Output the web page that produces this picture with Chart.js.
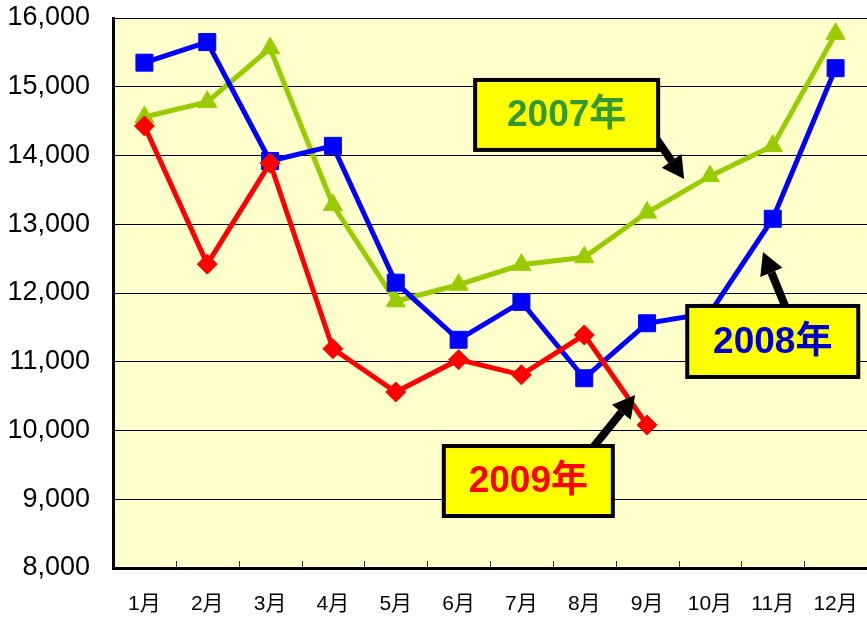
<!DOCTYPE html>
<html>
<head>
<meta charset="utf-8">
<script src="https://cdn.jsdelivr.net/npm/chart.js@4"></script>
<style>
  html, body { margin: 0; padding: 0; background: #fff; overflow: hidden; }
  #wrap { width: 867px; height: 617px; }
  canvas { display: block; }
</style>
</head>
<body>
<div id="wrap"><canvas id="salesChart" width="867" height="617"></canvas></div>
<script>
const months = ['1月', '2月', '3月', '4月', '5月', '6月', '7月', '8月', '9月', '10月', '11月', '12月'];
const sales2007 = [14560, 14780, 15560, 13280, 11880, 12120, 12410, 12520, 13170, 13700, 14140, 15770];
const sales2008 = [15350, 15650, 13920, 14140, 12150, 11320, 11870, 10760, 11560, 11710, 13080, 15270];
const sales2009 = [14430, 12420, 13890, 11190, 10560, 11030, 10810, 11390, 10080];
const yMin = 8000;
const yMax = 16000;
const yStep = 1000;

const FONT = "'Liberation Sans', Arial, 'Noto Sans CJK JP', sans-serif";

// 吹き出し（位置はデータ座標、サイズはpx）
const notes = [
    { text: '2007年', color: '#339933', x: 6.72, y: 14590, w: 183, h: 70, from: [8.05, 14371], to: [8.59, 13658] },
    { text: '2008年', color: '#0000CC', x: 10.0, y: 11295, w: 171, h: 71, from: [10.35, 11469], to: [9.845, 12596] },
    { text: '2009年', color: '#FF0000', x: 6.11, y: 9265, w: 169, h: 70, from: [6.85, 9425], to: [7.81, 10516] }
];

const plotBg = {
    id: 'plotBg',
    beforeDraw(chart) {
        const { ctx, chartArea: a } = chart;
        ctx.save();
        ctx.fillStyle = '#FFFFCC';
        ctx.fillRect(a.left, a.top, a.right - a.left, a.bottom - a.top);
        ctx.restore();
    },
    beforeDatasetsDraw(chart) {
        // 下軸の内向き目盛り
        const { ctx, chartArea: a, scales } = chart;
        const xs = scales.x;
        const half = (xs.getPixelForValue(1) - xs.getPixelForValue(0)) / 2;
        ctx.save();
        ctx.strokeStyle = '#333';
        ctx.lineWidth = 1;
        for (let i = 1; i < months.length; i++) {
            const px = Math.round(xs.getPixelForValue(i) - half) + 0.5;
            ctx.beginPath();
            ctx.moveTo(px, a.bottom);
            ctx.lineTo(px, a.bottom - 7);
            ctx.stroke();
        }
        ctx.restore();
    }
};

function drawArrow(ctx, x1, y1, x2, y2) {
    const ang = Math.atan2(y2 - y1, x2 - x1);
    const headLen = 22, headW = 12;
    const bx = x2 - Math.cos(ang) * headLen;
    const by = y2 - Math.sin(ang) * headLen;
    ctx.strokeStyle = '#000';
    ctx.fillStyle = '#000';
    ctx.lineWidth = 8;
    ctx.beginPath();
    ctx.moveTo(x1, y1);
    ctx.lineTo(bx, by);
    ctx.stroke();
    ctx.beginPath();
    ctx.moveTo(x2, y2);
    ctx.lineTo(bx + Math.sin(ang) * headW, by - Math.cos(ang) * headW);
    ctx.lineTo(bx - Math.sin(ang) * headW, by + Math.cos(ang) * headW);
    ctx.closePath();
    ctx.fill();
}

const callouts = {
    id: 'callouts',
    afterDatasetsDraw(chart) {
        const { ctx, scales } = chart;
        const xs = scales.x, ys = scales.y;
        ctx.save();
        notes.forEach(n => {
            drawArrow(ctx,
                xs.getPixelForValue(n.from[0]), ys.getPixelForValue(n.from[1]),
                xs.getPixelForValue(n.to[0]), ys.getPixelForValue(n.to[1]));
            const cx = xs.getPixelForValue(n.x);
            const cy = ys.getPixelForValue(n.y);
            const left = cx - n.w / 2, top = cy - n.h / 2;
            ctx.fillStyle = '#FFFF00';
            ctx.fillRect(left, top, n.w, n.h);
            ctx.strokeStyle = '#000';
            ctx.lineWidth = 4;
            ctx.strokeRect(left, top, n.w, n.h);
            ctx.fillStyle = n.color;
            ctx.font = 'bold 37px ' + FONT;
            ctx.textAlign = 'center';
            ctx.textBaseline = 'middle';
            ctx.fillText(n.text, cx, cy + 1);
        });
        ctx.restore();
    }
};

new Chart(document.getElementById('salesChart'), {
    type: 'line',
    data: {
        labels: months,
        datasets: [
            { label: '2009年', data: sales2009, borderColor: '#FF0000', backgroundColor: '#FF0000', borderWidth: 5, pointStyle: 'rectRot', pointRadius: 10, pointBorderWidth: 1, tension: 0 },
            { label: '2008年', data: sales2008, borderColor: '#0000FF', backgroundColor: '#0000FF', borderWidth: 5, pointStyle: 'rect', pointRadius: 12, pointBorderWidth: 1, tension: 0 },
            { label: '2007年', data: sales2007, borderColor: '#99CC00', backgroundColor: '#99CC00', borderWidth: 5, pointStyle: 'triangle', pointRadius: 11, pointBorderWidth: 1, tension: 0 }
        ]
    },
    options: {
        responsive: false,
        animation: false,
        // autoPadding が右端に余白を入れるので切る
        layout: { autoPadding: false, padding: { top: 18, right: 0, left: 0, bottom: 0 } },
        plugins: { legend: { display: false }, tooltip: { enabled: false } },
        scales: {
            x: {
                offset: true,
                grid: { display: false, drawTicks: false },
                border: { display: true, color: '#000', width: 3 },
                ticks: { color: '#000', font: { family: FONT, size: 21 }, padding: 24, maxRotation: 0, autoSkip: false },
                afterFit(scale) {
                    scale.height = 49;
                    scale.paddingLeft = 0;
                    scale.paddingRight = 0;
                }
            },
            y: {
                min: yMin,
                max: yMax,
                grid: { color: '#000', lineWidth: 1, drawTicks: false },
                border: { display: true, color: '#000', width: 3 },
                ticks: {
                    stepSize: yStep,
                    color: '#000',
                    font: { family: FONT, size: 27 },
                    padding: 23,
                    callback: v => v.toLocaleString('en-US')
                },
                afterFit(scale) {
                    scale.width = 113;
                    scale.paddingTop = 0;
                    scale.paddingBottom = 0;
                }
            }
        }
    },
    plugins: [plotBg, callouts]
});
</script>
</body>
</html>
